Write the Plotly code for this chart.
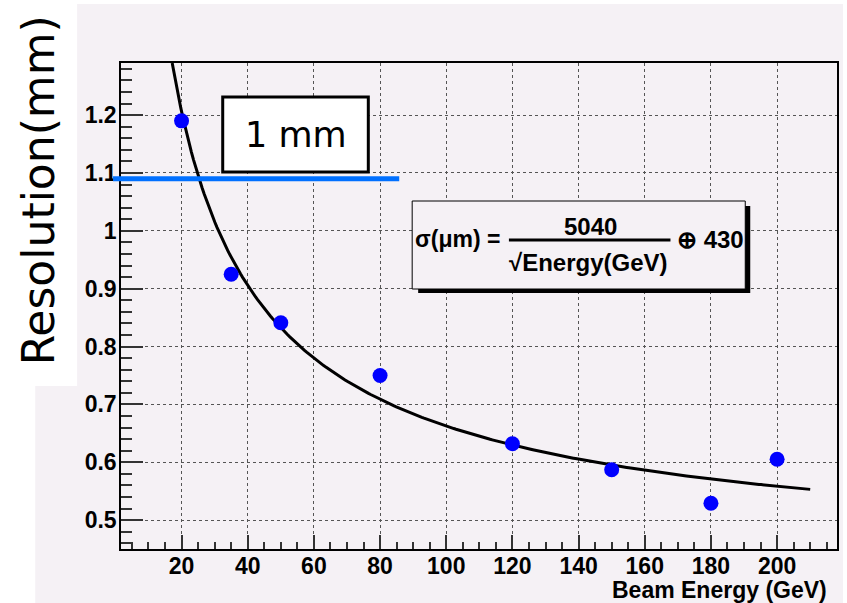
import numpy as np
import plotly.graph_objects as go

# Measured beam-test resolution
energy_gev = [20, 35, 50, 80, 120, 150, 180, 200]
resolution_mm = [1.19, 0.925, 0.841, 0.75, 0.632, 0.587, 0.529, 0.605]

# Fit parameters (micrometres): sigma = A / sqrt(E)  (+)  B
fit_stochastic_um = 5040
fit_constant_um = 430
fit_e_max = 210

x_tick_vals = [20, 40, 60, 80, 100, 120, 140, 160, 180, 200]
x_tick_text = ["20", "40", "60", "80", "100", "120", "140", "160", "180", "200"]
y_tick_vals = [0.5, 0.6, 0.7, 0.8, 0.9, 1.0, 1.1, 1.2]
y_tick_text = ["0.5", "0.6", "0.7", "0.8", "0.9", "1", "1.1", "1.2"]

one_mm_line_y = 1.09

PINK = "rgb(245,241,245)"
BLUE_PT = "rgb(0,0,255)"
BOLD = "Liberation Sans"

# Fit curve evaluated from the quoted parameters, in mm
y_top = 1.29
a_mm = fit_stochastic_um / 1000.0
b_mm = fit_constant_um / 1000.0
e_min = a_mm ** 2 / (y_top ** 2 - b_mm ** 2)
e_fit = np.linspace(e_min, fit_e_max, 300)
sigma_fit = np.sqrt((a_mm / np.sqrt(e_fit)) ** 2 + b_mm ** 2)

fig = go.Figure()
fig.add_trace(go.Scatter(x=e_fit, y=sigma_fit, mode="lines",
                         line=dict(color="black", width=3), hoverinfo="skip"))
fig.add_trace(go.Scatter(x=energy_gev, y=resolution_mm, mode="markers",
                         marker=dict(color=BLUE_PT, size=15, line=dict(width=0))))

W, H = 847, 603
L, R, T, B = 121, 8, 63, 54
pw, ph = W - L - R, H - T - B


def px_x(px):
    return (px - L) / pw


def px_y(py):
    return (H - B - py) / ph


shapes = [
    # page background panels
    dict(type="rect", xref="paper", yref="paper", layer="below",
         x0=px_x(35), x1=px_x(845), y0=px_y(603), y1=px_y(4),
         fillcolor=PINK, line=dict(width=0)),
    dict(type="rect", xref="paper", yref="paper", layer="below",
         x0=px_x(0), x1=px_x(77), y0=px_y(386), y1=px_y(0),
         fillcolor="white", line=dict(width=0)),
    # 1 mm reference line
    dict(type="line", xref="paper", yref="y",
         x0=px_x(113), x1=px_x(400), y0=one_mm_line_y, y1=one_mm_line_y,
         line=dict(color="rgb(0,112,255)", width=5)),
    # "1 mm" box
    dict(type="rect", xref="paper", yref="paper",
         x0=px_x(223), x1=px_x(369), y0=px_y(172), y1=px_y(97),
         fillcolor="white", line=dict(color="black", width=3)),
    # formula box shadow and frame
    dict(type="rect", xref="paper", yref="paper",
         x0=px_x(419), x1=px_x(752), y0=px_y(293), y1=px_y(206),
         fillcolor="black", line=dict(width=0)),
    dict(type="rect", xref="paper", yref="paper",
         x0=px_x(413), x1=px_x(747), y0=px_y(289), y1=px_y(201),
         fillcolor=PINK, line=dict(color="black", width=1)),
    # fraction bar
    dict(type="line", xref="paper", yref="paper",
         x0=px_x(510), x1=px_x(672), y0=px_y(240), y1=px_y(240),
         line=dict(color="black", width=3)),
]

annotations = [
    dict(text="Resolution(mm)", xref="paper", yref="paper",
         x=px_x(38), y=px_y(190), textangle=-90, showarrow=False,
         font=dict(family="DejaVu Sans", size=44, color="black"),
         xanchor="center", yanchor="middle"),
    dict(text="1 mm", xref="paper", yref="paper",
         x=px_x(296), y=px_y(135), showarrow=False,
         font=dict(family="DejaVu Sans", size=35, color="black"),
         xanchor="center", yanchor="middle"),
    dict(text="<b>σ(μm) =</b>", xref="paper", yref="paper",
         x=px_x(414), y=px_y(239), showarrow=False,
         font=dict(family=BOLD, size=23, color="black"),
         xanchor="left", yanchor="middle"),
    dict(text=f"<b>{fit_stochastic_um}</b>", xref="paper", yref="paper",
         x=px_x(592), y=px_y(226), showarrow=False,
         font=dict(family=BOLD, size=24, color="black"),
         xanchor="center", yanchor="middle"),
    dict(text="<b>√Energy(GeV)</b>", xref="paper", yref="paper",
         x=px_x(590), y=px_y(262), showarrow=False,
         font=dict(family=BOLD, size=24, color="black"),
         xanchor="center", yanchor="middle"),
    dict(text=f"<b>⊕ {fit_constant_um}</b>", xref="paper", yref="paper",
         x=px_x(677), y=px_y(239), showarrow=False,
         font=dict(family=BOLD, size=24, color="black"),
         xanchor="left", yanchor="middle"),
    dict(text="<b>Beam Energy (GeV)</b>", xref="paper", yref="paper",
         x=px_x(831), y=px_y(590), showarrow=False,
         font=dict(family=BOLD, size=23, color="black"),
         xanchor="right", yanchor="middle"),
]

axis_common = dict(
    showline=True, linecolor="black", linewidth=1.5, mirror=True,
    ticks="inside", tickcolor="#333", tickwidth=1.5,
    showgrid=True, gridcolor="#555", gridwidth=1, griddash="dot",
    zeroline=False,
    tickfont=dict(family=BOLD, size=23, color="black", weight="bold"),
    tickmode="array",
)

fig.update_xaxes(**axis_common, range=[1.7, 218.1],
                 tickvals=x_tick_vals, ticktext=x_tick_text, ticklen=14,
                 ticklabelstandoff=-4,
                 minor=dict(tickmode="linear", tick0=0, dtick=5, ticks="inside",
                            ticklen=7, tickcolor="#333", tickwidth=1.5,
                            showgrid=False))
fig.update_yaxes(**axis_common, range=[0.45, 1.29],
                 tickvals=y_tick_vals, ticktext=y_tick_text, ticklen=22,
                 ticklabelstandoff=-2,
                 minor=dict(tickmode="linear", tick0=0.5, dtick=0.02, ticks="inside",
                            ticklen=11, tickcolor="#333", tickwidth=1.5,
                            showgrid=False))

fig.update_layout(
    width=W, height=H,
    margin=dict(l=L, r=R, t=T, b=B, pad=0),
    paper_bgcolor="white", plot_bgcolor=PINK,
    showlegend=False,
    shapes=shapes, annotations=annotations,
)

fig.write_html("out.html")
